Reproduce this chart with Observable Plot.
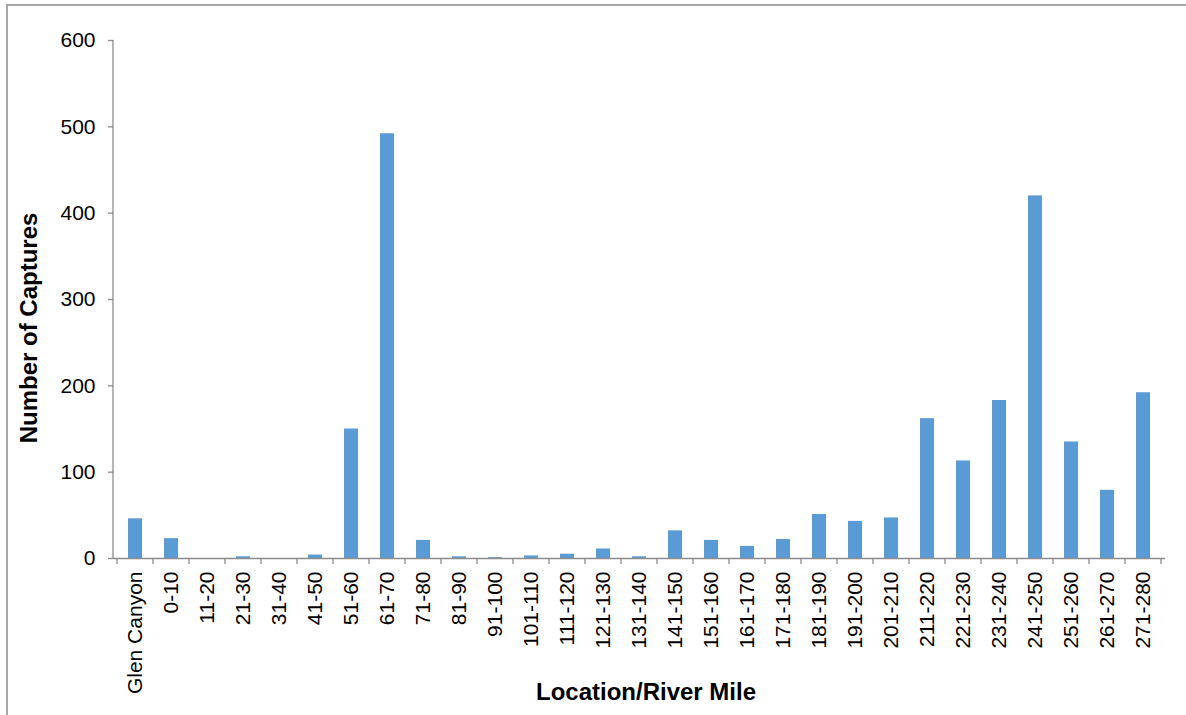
<!DOCTYPE html>
<html>
<head>
<meta charset="utf-8">
<script src="https://cdn.jsdelivr.net/npm/d3@7"></script>
<script src="https://cdn.jsdelivr.net/npm/@observablehq/plot@0.6"></script>
<style>
  html, body { margin: 0; padding: 0; background: #fff; }
  svg { display: block; }
</style>
</head>
<body>
<div id="chart"></div>
<script>
const categories = ["Glen Canyon","0-10","11-20","21-30","31-40","41-50","51-60","61-70","71-80","81-90","91-100","101-110","111-120","121-130","131-140","141-150","151-160","161-170","171-180","181-190","191-200","201-210","211-220","221-230","231-240","241-250","251-260","261-270","271-280"];
const captures = [46,23,0,2,0,4,150,492,21,2,1,3,5,11,2,32,21,14,22,51,43,47,162,113,183,420,135,79,192];
const yTicks = [0,100,200,300,400,500,600];
const yTitle = "Number of Captures";
const xTitle = "Location/River Mile";

const data = categories.map((c, i) => ({cat: c, n: captures[i]}));
const axisGrey = "#8c8c8c";

// axis line + band-boundary ticks drawn from the library's scales
function axisDecor(index, scales, values, dimensions) {
  const g = d3.create("svg:g");
  const x = scales.x, y = scales.y;
  const step = x(categories[1]) - x(categories[0]);
  let bw = x.bandwidth;
  if (typeof bw === "function") bw = bw.call(x);
  if (!(bw >= 0)) bw = step * 0.4;
  const y0 = y(0);
  const left = dimensions.marginLeft;
  g.append("line").attr("x1", left).attr("x2", left)
    .attr("y1", y(yTicks[yTicks.length - 1])).attr("y2", y0)
    .attr("stroke", axisGrey).attr("stroke-width", 1.3);
  const bounds = categories.map(c => x(c) + bw / 2 - step / 2);
  bounds.push(x(categories[categories.length - 1]) + bw / 2 + step / 2);
  for (const b of bounds) {
    if (!isFinite(b)) continue;
    g.append("line").attr("x1", b).attr("x2", b)
      .attr("y1", y0).attr("y2", y0 + 6)
      .attr("stroke", axisGrey).attr("stroke-width", 1.3);
  }
  return g.node();
}

const chart = Plot.plot({
  width: 1186,
  height: 715,
  marginLeft: 113,
  marginRight: 21,
  marginTop: 40,
  marginBottom: 157,
  style: {fontFamily: "'Liberation Sans', Arial, sans-serif", background: "white", color: "black"},
  x: {domain: categories, paddingInner: 0.6, paddingOuter: 0.3},
  y: {domain: [0, 600]},
  marks: [
    Plot.barY(data, {x: "cat", y: "n", fill: "#5B9BD5"}),
    Plot.ruleY([0], {stroke: axisGrey, strokeWidth: 1.3}),
    Plot.axisY({ticks: yTicks, tickSize: 5, tickPadding: 13, fontSize: 21, stroke: axisGrey, strokeWidth: 1.3, fill: "black", label: null}),
    Plot.axisX({tickSize: 0, tickRotate: -90, tickPadding: 13, fontSize: 21, fill: "black", label: null}),
    axisDecor
  ]
});

const svg = d3.select(chart);
svg.append("path")
  .attr("d", "M7,720 L7,5 L1190,5")
  .attr("fill", "none").attr("stroke", "#a6a6a6").attr("stroke-width", 2);
svg.append("text")
  .attr("transform", "translate(37,328) rotate(-90)")
  .attr("text-anchor", "middle")
  .attr("font-family", "'Liberation Sans', Arial, sans-serif")
  .attr("font-weight", "bold").attr("font-size", 24).attr("fill", "black")
  .text(yTitle);
svg.append("text")
  .attr("x", 646).attr("y", 700)
  .attr("text-anchor", "middle")
  .attr("font-family", "'Liberation Sans', Arial, sans-serif")
  .attr("font-weight", "bold").attr("font-size", 24).attr("fill", "black")
  .text(xTitle);

document.getElementById("chart").appendChild(chart);
</script>
</body>
</html>
